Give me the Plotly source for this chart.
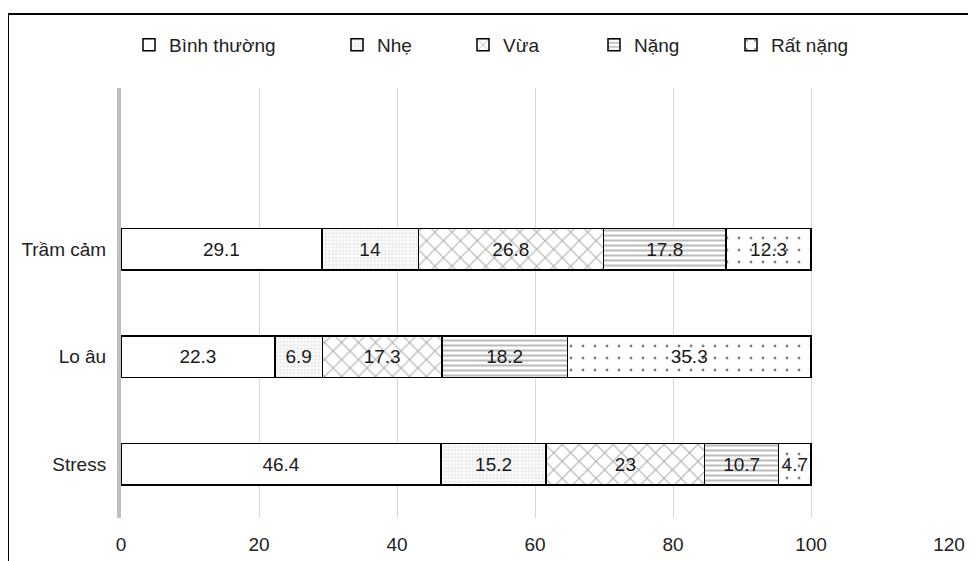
import plotly.graph_objects as go

categories = ["Stress", "Lo âu", "Trầm cảm"]
series_names = ["Bình thường", "Nhẹ", "Vừa", "Nặng", "Rất nặng"]
binh_thuong = [46.4, 22.3, 29.1]
nhe = [15.2, 6.9, 14]
vua = [23, 17.3, 26.8]
nang = [10.7, 18.2, 17.8]
rat_nang = [4.7, 35.3, 12.3]
x_ticks = [0, 20, 40, 60, 80, 100, 120]

FONT = "Liberation Sans"
FS = 19
values = [binh_thuong, nhe, vua, nang, rat_nang]
patterns = [
    dict(shape=""),
    dict(shape="+", size=3.5, solidity=0.3, fgcolor="#b4b4b4", bgcolor="white"),
    dict(shape="x", size=12, solidity=0.16, fgcolor="#555555", bgcolor="white"),
    dict(shape="-", size=5, solidity=0.4, fgcolor="#777777", bgcolor="white"),
    dict(shape=".", size=12, solidity=0.045, fgcolor="black", bgcolor="white"),
]

# page coordinates: plot x from 121 to 949, y from 88 to 518 (body margin 8 px)
PL, PR, PT, PB = 121, 949, 88, 518
PW, PH = PR - PL, PB - PT
FW, FH = 968, 553
legend_text_x = [168, 376, 502, 633, 770]
legend_ids = ["legend", "legend2", "legend3", "legend4", "legend5"]

fig = go.Figure()
for name, vals, pat, lid in zip(series_names, values, patterns, legend_ids):
    fig.add_trace(go.Bar(
        y=categories, x=vals, name=name, orientation="h", legend=lid,
        marker=dict(color="white", pattern=pat, line=dict(color="black", width=1.5)),
        text=[f"{v:g}" for v in vals], textposition="inside",
        insidetextanchor="middle", textangle=0,
        textfont=dict(color="#1a1a1a", size=FS, family=FONT),
        constraintext="none", width=0.39,
    ))

legends = {}
for lid, tx in zip(legend_ids, legend_text_x):
    legends[lid] = dict(x=(tx - 39 - PL) / PW, y=(PB - 45) / PH, xanchor="left",
                        yanchor="middle", orientation="h", bgcolor="rgba(0,0,0,0)",
                        font=dict(size=FS, family=FONT, color="#222"), itemwidth=30)

fig.update_layout(
    barmode="stack",
    width=FW, height=FH,
    margin=dict(l=PL - 8, r=FW + 8 - PR, t=PT - 8, b=FH + 8 - PB, autoexpand=False),
    paper_bgcolor="white", plot_bgcolor="white",
    font=dict(family=FONT, size=FS, color="#222"),
    uniformtext=dict(minsize=FS, mode="show"),
    showlegend=True,
    xaxis=dict(range=[0, 120], tickvals=x_ticks, showgrid=True, gridcolor="#d9d9d9",
               gridwidth=1, zeroline=False, showline=False, ticks="",
               ticklabelstandoff=13, tickfont=dict(size=FS), automargin=False),
    yaxis=dict(type="category", categoryorder="array", categoryarray=categories,
               range=[-0.5, 3.5], showline=True, linecolor="#bfbfbf", linewidth=4,
               showgrid=False, ticks="", ticklabelstandoff=7, tickfont=dict(size=FS),
               automargin=False),
    shapes=[dict(type="rect", xref="paper", yref="paper",
                 x0=(8 - PL) / PW, x1=1.2, y0=-0.3, y1=(PB - 14) / PH,
                 line=dict(color="black", width=2), layer="below")],
    **legends,
)

fig.write_html("out.html")
